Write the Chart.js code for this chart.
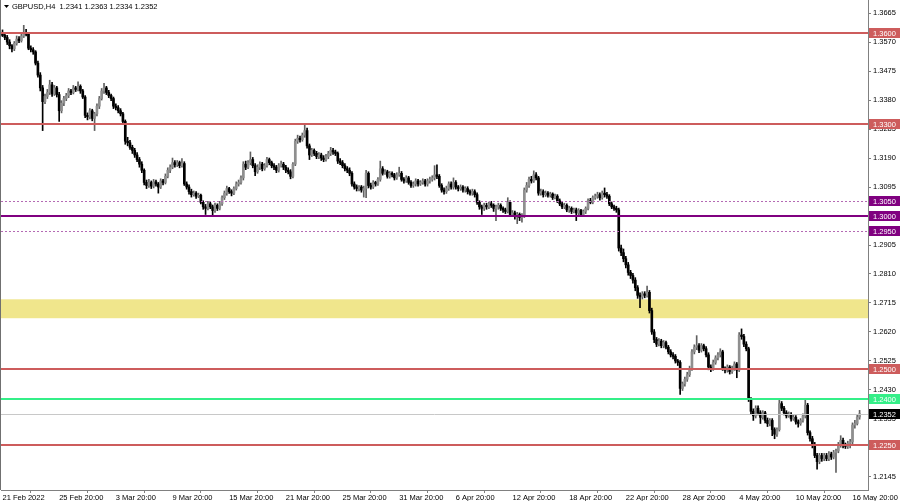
<!DOCTYPE html>
<html><head><meta charset="utf-8">
<script src="https://cdn.jsdelivr.net/npm/chart.js@4.4.0/dist/chart.umd.min.js"></script>
<style>html,body{margin:0;padding:0;background:#fff;overflow:hidden}canvas{display:block}</style>
</head><body>
<canvas id="c" width="900" height="501"></canvas>
<script>
const symbol = 'GBPUSD,H4';

const opens = [
1.3600,1.3592,1.3585,1.3570,1.3558,1.3548,1.3566,1.3580,1.3575,1.3590,
1.3600,1.3596,1.3550,1.3545,1.3538,1.3501,1.3462,1.3420,1.3375,1.3392,
1.3405,1.3430,1.3400,1.3420,1.3398,1.3345,1.3370,1.3385,1.3395,1.3410,
1.3405,1.3420,1.3415,1.3425,1.3410,1.3390,1.3330,1.3325,1.3345,1.3320,
1.3335,1.3360,1.3385,1.3410,1.3420,1.3405,1.3395,1.3385,1.3360,1.3355,
1.3345,1.3335,1.3310,1.3245,1.3240,1.3225,1.3215,1.3200,1.3185,1.3170,
1.3150,1.3110,1.3100,1.3110,1.3098,1.3112,1.3105,1.3095,1.3115,1.3110,
1.3130,1.3150,1.3160,1.3175,1.3168,1.3175,1.3165,1.3172,1.3105,1.3095,
1.3080,1.3070,1.3075,1.3065,1.3068,1.3045,1.3030,1.3025,1.3040,1.3030,
1.3018,1.3035,1.3025,1.3040,1.3060,1.3075,1.3090,1.3080,1.3075,1.3090,
1.3105,1.3110,1.3125,1.3170,1.3160,1.3175,1.3185,1.3165,1.3145,1.3160,
1.3170,1.3155,1.3165,1.3185,1.3175,1.3165,1.3160,1.3150,1.3165,1.3170,
1.3160,1.3150,1.3145,1.3130,1.3170,1.3245,1.3255,1.3250,1.3265,1.3280,
1.3230,1.3200,1.3215,1.3205,1.3195,1.3200,1.3190,1.3185,1.3195,1.3205,
1.3215,1.3210,1.3205,1.3180,1.3175,1.3165,1.3155,1.3150,1.3140,1.3105,
1.3095,1.3090,1.3095,1.3085,1.3090,1.3140,1.3100,1.3095,1.3110,1.3105,
1.3120,1.3155,1.3140,1.3145,1.3130,1.3140,1.3135,1.3125,1.3135,1.3140,
1.3120,1.3115,1.3125,1.3110,1.3100,1.3105,1.3115,1.3105,1.3110,1.3115,
1.3105,1.3115,1.3120,1.3125,1.3135,1.3130,1.3100,1.3085,1.3080,1.3090,
1.3105,1.3095,1.3110,1.3095,1.3090,1.3095,1.3085,1.3090,1.3080,1.3075,
1.3080,1.3070,1.3045,1.3030,1.3025,1.3035,1.3030,1.3040,1.3035,1.3025,
1.3030,1.3035,1.3025,1.3020,1.3015,1.3045,1.3005,1.3010,1.2998,1.3005,
1.2995,1.3000,1.3085,1.3100,1.3120,1.3115,1.3135,1.3125,1.3075,1.3080,
1.3070,1.3075,1.3068,1.3072,1.3060,1.3065,1.3050,1.3040,1.3030,1.3035,
1.3020,1.3025,1.3015,1.3020,1.3010,1.3018,1.3005,1.3015,1.3025,1.3050,
1.3045,1.3060,1.3065,1.3070,1.3060,1.3075,1.3070,1.3065,1.3040,1.3030,
1.3025,1.3020,1.2895,1.2880,1.2860,1.2840,1.2815,1.2805,1.2790,1.2765,
1.2740,1.2735,1.2745,1.2740,1.2750,1.2690,1.2620,1.2595,1.2580,1.2590,
1.2575,1.2585,1.2570,1.2555,1.2545,1.2540,1.2525,1.2520,1.2435,1.2450,
1.2465,1.2480,1.2500,1.2555,1.2570,1.2575,1.2560,1.2575,1.2565,1.2545,
1.2505,1.2500,1.2520,1.2535,1.2545,1.2555,1.2500,1.2495,1.2505,1.2490,
1.2500,1.2515,1.2495,1.2610,1.2605,1.2580,1.2565,1.2400,1.2360,1.2345,
1.2370,1.2355,1.2340,1.2355,1.2330,1.2320,1.2330,1.2300,1.2285,1.2300,
1.2385,1.2370,1.2355,1.2345,1.2350,1.2335,1.2340,1.2325,1.2320,1.2330,
1.2345,1.2380,1.2290,1.2270,1.2250,1.2215,1.2195,1.2215,1.2205,1.2215,
1.2205,1.2220,1.2210,1.2225,1.2230,1.2250,1.2265,1.2250,1.2245,1.2255,
1.2260,1.2315,1.2320,1.2341];

const highs = [
1.3610,1.3598,1.3592,1.3578,1.3562,1.3572,1.3590,1.3588,1.3596,1.3625,
1.3612,1.3600,1.3558,1.3552,1.3542,1.3508,1.3470,1.3428,1.3400,1.3415,
1.3445,1.3438,1.3428,1.3425,1.3405,1.3378,1.3392,1.3402,1.3418,1.3415,
1.3428,1.3425,1.3440,1.3430,1.3415,1.3395,1.3338,1.3352,1.3350,1.3340,
1.3368,1.3392,1.3418,1.3435,1.3425,1.3412,1.3400,1.3390,1.3368,1.3362,
1.3352,1.3340,1.3315,1.3258,1.3248,1.3232,1.3222,1.3208,1.3192,1.3178,
1.3155,1.3118,1.3120,1.3115,1.3120,1.3118,1.3110,1.3122,1.3120,1.3138,
1.3158,1.3168,1.3190,1.3182,1.3182,1.3180,1.3188,1.3178,1.3112,1.3102,
1.3088,1.3082,1.3080,1.3075,1.3072,1.3050,1.3038,1.3048,1.3045,1.3036,
1.3042,1.3040,1.3048,1.3066,1.3082,1.3098,1.3094,1.3086,1.3096,1.3112,
1.3118,1.3132,1.3178,1.3180,1.3182,1.3210,1.3192,1.3172,1.3168,1.3178,
1.3176,1.3172,1.3192,1.3190,1.3180,1.3172,1.3166,1.3172,1.3180,1.3176,
1.3166,1.3158,1.3152,1.3175,1.3252,1.3265,1.3262,1.3272,1.3300,1.3288,
1.3236,1.3222,1.3220,1.3212,1.3208,1.3206,1.3198,1.3202,1.3212,1.3225,
1.3222,1.3216,1.3210,1.3188,1.3182,1.3172,1.3162,1.3158,1.3146,1.3112,
1.3102,1.3100,1.3100,1.3098,1.3150,1.3145,1.3108,1.3116,1.3114,1.3126,
1.3180,1.3162,1.3152,1.3150,1.3146,1.3145,1.3140,1.3142,1.3160,1.3146,
1.3126,1.3132,1.3130,1.3116,1.3112,1.3122,1.3120,1.3116,1.3122,1.3120,
1.3122,1.3128,1.3132,1.3165,1.3168,1.3136,1.3106,1.3092,1.3098,1.3112,
1.3112,1.3125,1.3116,1.3100,1.3102,1.3100,1.3096,1.3096,1.3086,1.3088,
1.3086,1.3076,1.3050,1.3036,1.3042,1.3042,1.3046,1.3048,1.3040,1.3036,
1.3042,1.3040,1.3030,1.3026,1.3060,1.3050,1.3018,1.3016,1.3012,1.3010,
1.3008,1.3092,1.3110,1.3128,1.3130,1.3148,1.3142,1.3130,1.3088,1.3086,
1.3082,1.3080,1.3078,1.3076,1.3072,1.3070,1.3056,1.3046,1.3042,1.3040,
1.3032,1.3030,1.3026,1.3026,1.3024,1.3022,1.3020,1.3030,1.3056,1.3058,
1.3066,1.3072,1.3078,1.3076,1.3082,1.3092,1.3078,1.3070,1.3046,1.3036,
1.3032,1.3026,1.2905,1.2892,1.2868,1.2848,1.2822,1.2812,1.2798,1.2772,
1.2748,1.2752,1.2752,1.2770,1.2756,1.2698,1.2628,1.2602,1.2598,1.2596,
1.2592,1.2590,1.2576,1.2562,1.2552,1.2546,1.2530,1.2526,1.2456,1.2472,
1.2488,1.2508,1.2562,1.2578,1.2608,1.2582,1.2582,1.2580,1.2572,1.2552,
1.2512,1.2528,1.2542,1.2552,1.2565,1.2560,1.2506,1.2512,1.2510,1.2508,
1.2522,1.2520,1.2618,1.2630,1.2612,1.2588,1.2570,1.2405,1.2368,1.2378,
1.2378,1.2362,1.2362,1.2360,1.2338,1.2336,1.2336,1.2306,1.2306,1.2400,
1.2392,1.2376,1.2362,1.2358,1.2356,1.2348,1.2346,1.2332,1.2336,1.2352,
1.2400,1.2386,1.2296,1.2278,1.2258,1.2222,1.2222,1.2222,1.2222,1.2222,
1.2228,1.2226,1.2232,1.2236,1.2258,1.2280,1.2272,1.2256,1.2262,1.2268,
1.2322,1.2330,1.2348,1.2363];

const lows = [
1.3588,1.3578,1.3562,1.3548,1.3538,1.3542,1.3560,1.3568,1.3570,1.3585,
1.3590,1.3545,1.3538,1.3530,1.3495,1.3455,1.3410,1.3280,1.3368,1.3385,
1.3398,1.3392,1.3395,1.3390,1.3310,1.3338,1.3362,1.3378,1.3388,1.3398,
1.3400,1.3408,1.3410,1.3402,1.3385,1.3322,1.3315,1.3318,1.3312,1.3280,
1.3328,1.3352,1.3380,1.3402,1.3398,1.3388,1.3378,1.3352,1.3348,1.3338,
1.3328,1.3302,1.3235,1.3230,1.3218,1.3205,1.3192,1.3178,1.3160,1.3142,
1.3102,1.3090,1.3094,1.3090,1.3092,1.3098,1.3075,1.3090,1.3102,1.3105,
1.3125,1.3142,1.3155,1.3160,1.3162,1.3158,1.3160,1.3100,1.3088,1.3072,
1.3062,1.3065,1.3058,1.3060,1.3040,1.3022,1.3005,1.3020,1.3024,1.3002,
1.3012,1.3018,1.3020,1.3035,1.3054,1.3068,1.3074,1.3066,1.3070,1.3085,
1.3098,1.3104,1.3118,1.3152,1.3155,1.3168,1.3158,1.3132,1.3140,1.3152,
1.3148,1.3150,1.3160,1.3168,1.3158,1.3152,1.3142,1.3144,1.3160,1.3152,
1.3142,1.3138,1.3122,1.3125,1.3165,1.3238,1.3242,1.3245,1.3258,1.3222,
1.3185,1.3195,1.3198,1.3188,1.3188,1.3182,1.3178,1.3180,1.3188,1.3198,
1.3202,1.3198,1.3172,1.3168,1.3158,1.3148,1.3142,1.3132,1.3098,1.3088,
1.3082,1.3082,1.3078,1.3062,1.3060,1.3092,1.3088,1.3090,1.3098,1.3100,
1.3114,1.3134,1.3136,1.3124,1.3124,1.3128,1.3118,1.3120,1.3130,1.3114,
1.3108,1.3110,1.3104,1.3094,1.3094,1.3098,1.3098,1.3100,1.3104,1.3098,
1.3098,1.3108,1.3114,1.3118,1.3122,1.3094,1.3078,1.3072,1.3074,1.3084,
1.3088,1.3088,1.3088,1.3082,1.3084,1.3078,1.3078,1.3072,1.3068,1.3068,
1.3062,1.3038,1.3022,1.3005,1.3018,1.3022,1.3024,1.3028,1.3015,1.2985,
1.3022,1.3018,1.3012,1.3008,1.3010,1.2998,1.2998,1.2990,1.2975,1.2985,
1.2980,1.2995,1.3078,1.3094,1.3108,1.3110,1.3118,1.3068,1.3068,1.3062,
1.3064,1.3062,1.3062,1.3054,1.3056,1.3044,1.3034,1.3024,1.3024,1.3014,
1.3012,1.3008,1.3010,1.2985,1.3004,1.2998,1.2998,1.3008,1.3020,1.3040,
1.3040,1.3054,1.3058,1.3052,1.3055,1.3062,1.3058,1.3034,1.3024,1.3018,
1.3012,1.2885,1.2870,1.2850,1.2830,1.2806,1.2795,1.2780,1.2755,1.2730,
1.2700,1.2728,1.2732,1.2734,1.2682,1.2612,1.2585,1.2572,1.2574,1.2568,
1.2568,1.2564,1.2548,1.2538,1.2532,1.2518,1.2510,1.2415,1.2428,1.2442,
1.2458,1.2474,1.2494,1.2548,1.2562,1.2552,1.2554,1.2558,1.2538,1.2496,
1.2490,1.2494,1.2514,1.2528,1.2538,1.2494,1.2486,1.2488,1.2482,1.2484,
1.2494,1.2470,1.2490,1.2596,1.2572,1.2558,1.2392,1.2352,1.2330,1.2338,
1.2348,1.2320,1.2334,1.2322,1.2310,1.2312,1.2280,1.2270,1.2278,1.2295,
1.2362,1.2348,1.2338,1.2340,1.2328,1.2330,1.2318,1.2308,1.2314,1.2324,
1.2338,1.2282,1.2262,1.2240,1.2208,1.2170,1.2188,1.2196,1.2198,1.2198,
1.2198,1.2202,1.2204,1.2160,1.2224,1.2242,1.2240,1.2238,1.2238,1.2240,
1.2252,1.2305,1.2315,1.2334];

const closes = [
1.3592,1.3585,1.3570,1.3558,1.3548,1.3566,1.3580,1.3575,1.3590,1.3600,
1.3596,1.3550,1.3545,1.3538,1.3501,1.3462,1.3420,1.3375,1.3392,1.3405,
1.3430,1.3400,1.3420,1.3398,1.3345,1.3370,1.3385,1.3395,1.3410,1.3405,
1.3420,1.3415,1.3425,1.3410,1.3390,1.3330,1.3325,1.3345,1.3320,1.3335,
1.3360,1.3385,1.3410,1.3420,1.3405,1.3395,1.3385,1.3360,1.3355,1.3345,
1.3335,1.3310,1.3245,1.3240,1.3225,1.3215,1.3200,1.3185,1.3170,1.3150,
1.3110,1.3100,1.3110,1.3098,1.3112,1.3105,1.3095,1.3115,1.3110,1.3130,
1.3150,1.3160,1.3175,1.3168,1.3175,1.3165,1.3172,1.3105,1.3095,1.3080,
1.3070,1.3075,1.3065,1.3068,1.3045,1.3030,1.3025,1.3040,1.3030,1.3018,
1.3035,1.3025,1.3040,1.3060,1.3075,1.3090,1.3080,1.3075,1.3090,1.3105,
1.3110,1.3125,1.3170,1.3160,1.3175,1.3185,1.3165,1.3145,1.3160,1.3170,
1.3155,1.3165,1.3185,1.3175,1.3165,1.3160,1.3150,1.3165,1.3170,1.3160,
1.3150,1.3145,1.3130,1.3170,1.3245,1.3255,1.3250,1.3265,1.3280,1.3230,
1.3200,1.3215,1.3205,1.3195,1.3200,1.3190,1.3185,1.3195,1.3205,1.3215,
1.3210,1.3205,1.3180,1.3175,1.3165,1.3155,1.3150,1.3140,1.3105,1.3095,
1.3090,1.3095,1.3085,1.3090,1.3140,1.3100,1.3095,1.3110,1.3105,1.3120,
1.3155,1.3140,1.3145,1.3130,1.3140,1.3135,1.3125,1.3135,1.3140,1.3120,
1.3115,1.3125,1.3110,1.3100,1.3105,1.3115,1.3105,1.3110,1.3115,1.3105,
1.3115,1.3120,1.3125,1.3135,1.3130,1.3100,1.3085,1.3080,1.3090,1.3105,
1.3095,1.3110,1.3095,1.3090,1.3095,1.3085,1.3090,1.3080,1.3075,1.3080,
1.3070,1.3045,1.3030,1.3025,1.3035,1.3030,1.3040,1.3035,1.3025,1.3030,
1.3035,1.3025,1.3020,1.3015,1.3045,1.3005,1.3010,1.2998,1.3005,1.2995,
1.3000,1.3085,1.3100,1.3120,1.3115,1.3135,1.3125,1.3075,1.3080,1.3070,
1.3075,1.3068,1.3072,1.3060,1.3065,1.3050,1.3040,1.3030,1.3035,1.3020,
1.3025,1.3015,1.3020,1.3010,1.3018,1.3005,1.3015,1.3025,1.3050,1.3045,
1.3060,1.3065,1.3070,1.3060,1.3075,1.3070,1.3065,1.3040,1.3030,1.3025,
1.3020,1.2895,1.2880,1.2860,1.2840,1.2815,1.2805,1.2790,1.2765,1.2740,
1.2735,1.2745,1.2740,1.2750,1.2690,1.2620,1.2595,1.2580,1.2590,1.2575,
1.2585,1.2570,1.2555,1.2545,1.2540,1.2525,1.2520,1.2435,1.2450,1.2465,
1.2480,1.2500,1.2555,1.2570,1.2575,1.2560,1.2575,1.2565,1.2545,1.2505,
1.2500,1.2520,1.2535,1.2545,1.2555,1.2500,1.2495,1.2505,1.2490,1.2500,
1.2515,1.2495,1.2610,1.2605,1.2580,1.2565,1.2400,1.2360,1.2345,1.2370,
1.2355,1.2340,1.2355,1.2330,1.2320,1.2330,1.2300,1.2285,1.2300,1.2385,
1.2370,1.2355,1.2345,1.2350,1.2335,1.2340,1.2325,1.2320,1.2330,1.2345,
1.2380,1.2290,1.2270,1.2250,1.2215,1.2195,1.2215,1.2205,1.2215,1.2205,
1.2220,1.2210,1.2225,1.2230,1.2250,1.2265,1.2250,1.2245,1.2255,1.2260,
1.2315,1.2320,1.2341,1.2352];

const xTickBars = [0,24,48,72,96,120,144,168,192,216,240,264,288,312,336,360];
const xTickLabels = ['21 Feb 2022','25 Feb 20:00','3 Mar 20:00','9 Mar 20:00','15 Mar 20:00','21 Mar 20:00','25 Mar 20:00','31 Mar 20:00','6 Apr 20:00','12 Apr 20:00','18 Apr 20:00','22 Apr 20:00','28 Apr 20:00','4 May 20:00','10 May 20:00','16 May 20:00'];
const yTicks = [1.3665,1.3570,1.3475,1.3380,1.3285,1.3190,1.3095,1.3000,1.2905,1.2810,1.2715,1.2620,1.2525,1.2430,1.2335,1.2240,1.2145];

const redLevels = [1.3600,1.3300,1.2500,1.2250];
const purpleLevels = [1.3000];
const purpleDotted = [1.3050,1.2950];
const greenLevels = [1.2400];
const zone = [1.2665,1.2727];

const yRange = [1.2102,1.3708];
const xRange = [-0.635,366.56];

const FONT = "'Liberation Sans', Arial, sans-serif";
Chart.defaults.font.family = FONT;
Chart.defaults.font.size = 7.5;
Chart.defaults.color = '#000';

const n = closes.length;
const idx = closes.map((_, i) => i);
const up = idx.map(i => closes[i] >= opens[i]);
const wickData = idx.map(i => ({x: i, y: [lows[i], highs[i]]}));
const bodyData = idx.map(i => ({x: i, y: [opens[i], closes[i]]}));
const RED = '#cd5c5c', PURPLE = '#800080', GREEN = '#34ef88';

const overlay = {
  id: 'overlay',
  beforeDatasetsDraw(chart) {
    const {ctx, chartArea: a, scales: {y}} = chart;
    ctx.save();
    const y1 = y.getPixelForValue(zone[1]), y0 = y.getPixelForValue(zone[0]);
    ctx.fillStyle = '#f0e68c';
    ctx.fillRect(a.left, y1, a.right - a.left, y0 - y1);
    ctx.restore();
  },
  afterDatasetsDraw(chart) {
    const {ctx, chartArea: a, scales: {y}} = chart;
    ctx.save();
    ctx.beginPath(); ctx.rect(a.left, a.top, a.right - a.left, a.bottom - a.top); ctx.clip();
    const hline = (v, color, w, dash) => {
      const py = Math.round(y.getPixelForValue(v)) + (w % 2 ? 0.5 : 0);
      ctx.beginPath(); ctx.strokeStyle = color; ctx.lineWidth = w; ctx.setLineDash(dash || []);
      ctx.moveTo(a.left, py); ctx.lineTo(a.right, py); ctx.stroke();
    };
    hline(closes[n - 1], '#c8c8c8', 1);
    purpleDotted.forEach(v => hline(v, '#b46ab4', 1, [2, 2]));
    redLevels.forEach(v => hline(v, RED, 2));
    purpleLevels.forEach(v => hline(v, PURPLE, 2));
    greenLevels.forEach(v => hline(v, GREEN, 2));
    ctx.restore();
  },
  afterDraw(chart) {
    const {ctx, chartArea: a, scales: {y}} = chart;
    ctx.save();
    ctx.strokeStyle = '#707070'; ctx.lineWidth = 1;
    ctx.beginPath(); ctx.moveTo(a.left - 0.5, a.top); ctx.lineTo(a.left - 0.5, a.bottom); ctx.stroke();
    ctx.font = '7.5px ' + FONT; ctx.textBaseline = 'middle'; ctx.textAlign = 'left';
    const tag = (v, bg, fg) => {
      const py = Math.round(y.getPixelForValue(v));
      ctx.fillStyle = bg; ctx.fillRect(a.right + 1, py - 5, 31, 10);
      ctx.fillStyle = fg; ctx.fillText(v.toFixed(4), a.right + 5, py + 0.5);
    };
    redLevels.forEach(v => tag(v, RED, '#fff'));
    purpleDotted.forEach(v => tag(v, PURPLE, '#fff'));
    purpleLevels.forEach(v => tag(v, PURPLE, '#fff'));
    greenLevels.forEach(v => tag(v, GREEN, '#fff'));
    tag(closes[n - 1], '#000', '#fff');
    ctx.fillStyle = '#000';
    ctx.beginPath(); ctx.moveTo(a.left + 3, 5); ctx.lineTo(a.left + 8, 5); ctx.lineTo(a.left + 5.5, 8); ctx.closePath(); ctx.fill();
    ctx.fillText(symbol + '  ' + [opens[n-1], highs[n-1], lows[n-1], closes[n-1]].map(v => v.toFixed(4)).join(' '), a.left + 11, 7);
    ctx.restore();
  }
};

new Chart(document.getElementById('c').getContext('2d'), {
  type: 'bar',
  data: {
    datasets: [
      { label: 'body', data: bodyData, order: 0, grouped: false, barThickness: 2, minBarLength: 1, borderWidth: 0,
        backgroundColor: up.map(u => u ? '#8f8f8f' : '#000000') },
      { label: 'wick', data: wickData, order: 1, grouped: false, barThickness: 1, borderWidth: 0,
        backgroundColor: up.map(u => u ? '#606060' : '#000000') }
    ]
  },
  options: {
    responsive: false, animation: false, devicePixelRatio: 1,
    layout: { padding: { left: 1, top: 0, right: 0, bottom: 0 } },
    plugins: { legend: { display: false }, tooltip: { enabled: false } },
    scales: {
      x: {
        type: 'linear', min: xRange[0], max: xRange[1], offset: false,
        afterBuildTicks: s => { s.ticks = xTickBars.map(v => ({ value: v })); },
        afterFit: s => { s.height = 11; s.paddingLeft = 0; s.paddingRight = 0; },
        ticks: { autoSkip: false, maxRotation: 0, minRotation: 0, align: 'start', padding: 0, color: '#000',
                 font: { size: 7.5 }, callback: v => xTickLabels[xTickBars.indexOf(v)] },
        grid: { drawOnChartArea: false, drawTicks: true, tickLength: 3, color: '#808080' },
        border: { display: true, color: '#808080', width: 1 }
      },
      y: {
        type: 'linear', position: 'right', min: yRange[0], max: yRange[1],
        afterBuildTicks: s => { s.ticks = yTicks.map(v => ({ value: v })); },
        afterFit: s => { s.width = 32; s.paddingTop = 0; s.paddingBottom = 0; },
        ticks: { autoSkip: false, padding: 2, color: '#000', font: { size: 7.5 }, callback: v => v.toFixed(4) },
        grid: { drawOnChartArea: false, drawTicks: true, tickLength: 3, color: '#808080' },
        border: { display: true, color: '#808080', width: 1 }
      }
    }
  },
  plugins: [overlay]
});
</script>
</body></html>
